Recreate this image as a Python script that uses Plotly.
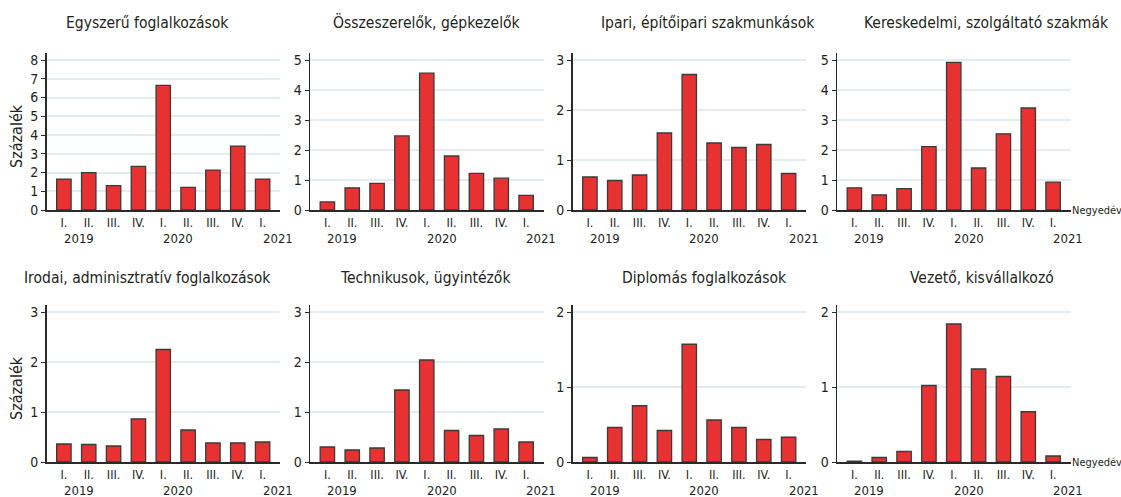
import plotly.graph_objects as go

W, H = 1121, 497
HF = 505  # rendered figure height (compensates the vertical squeeze seen in the page photo)
S = HF / H

quarters = ["I.", "II.", "III.", "IV.", "I.", "II.", "III.", "IV.", "I."]
years = ["2019", "2020", "2021"]
year_pos = [0, 4, 8]

titles = [
    "Egyszerű foglalkozások",
    "Összeszerelők, gépkezelők",
    "Ipari, építőipari szakmunkások",
    "Kereskedelmi, szolgáltató szakmák",
    "Irodai, adminisztratív foglalkozások",
    "Technikusok, ügyintézők",
    "Diplomás foglalkozások",
    "Vezető, kisvállalkozó",
]

egyszeru = [1.65, 1.99, 1.30, 2.33, 6.65, 1.21, 2.13, 3.41, 1.65]
osszeszerelo = [0.27, 0.74, 0.89, 2.47, 4.56, 1.80, 1.22, 1.06, 0.49]
ipari = [0.66, 0.59, 0.70, 1.54, 2.71, 1.34, 1.25, 1.31, 0.73]
kereskedelmi = [0.74, 0.50, 0.71, 2.11, 4.92, 1.40, 2.54, 3.40, 0.93]
irodai = [0.36, 0.35, 0.32, 0.86, 2.25, 0.64, 0.38, 0.38, 0.40]
technikus = [0.30, 0.24, 0.28, 1.44, 2.04, 0.63, 0.53, 0.66, 0.40]
diplomas = [0.06, 0.46, 0.75, 0.42, 1.57, 0.56, 0.46, 0.30, 0.33]
vezeto = [0.01, 0.06, 0.14, 1.02, 1.84, 1.24, 1.14, 0.67, 0.08]

series = [egyszeru, osszeszerelo, ipari, kereskedelmi, irodai, technikus, diplomas, vezeto]
y_max = [8, 5, 3, 5, 3, 3, 2, 2]

y_title = "Százalék"
x_title = "Negyedév"

FONT = "Liberation Sans Narrow, DejaVu Sans Condensed, Roboto, sans-serif"
TXT = "#231f20"
RED = "#e83232"
EDGE = "#3a3a3a"
GRID = "#e3ecf1"

# pixel layout (in 1121x497 picture space)
col_px = [(46.5, 280), (310, 543.5), (572.5, 806), (837, 1070.5)]
row_px = [(52.5, 210), (304.5, 462)]  # top of range, zero line
title_cx = [[147, 427, 708, 987], [147, 425, 704, 982]]
title_cy = [23, 278]

fig = go.Figure()
layout = dict(
    width=W, height=HF, autosize=False,
    margin=dict(l=0, r=0, t=0, b=0),
    paper_bgcolor="white", plot_bgcolor="white",
    showlegend=False,
    font=dict(family=FONT, color=TXT, size=13),
    bargap=0.42,
)
annotations = []

for i, vals in enumerate(series):
    r, c = divmod(i, 4)
    n = i + 1
    xa = "x" if n == 1 else f"x{n}"
    ya = "y" if n == 1 else f"y{n}"
    fig.add_trace(go.Bar(
        x=list(range(len(quarters))), y=vals,
        marker=dict(color=RED, line=dict(color=EDGE, width=1.3)),
        xaxis=xa, yaxis=ya, hoverinfo="y",
    ))
    x0, x1 = col_px[c]
    yt, yz = row_px[r]
    layout["xaxis" + ("" if n == 1 else str(n))] = dict(
        domain=[x0 / W, x1 / W], anchor=ya,
        range=[-0.7, 8.7],
        tickmode="array", tickvals=list(range(len(quarters))), ticktext=quarters,
        ticks="", showgrid=False, zeroline=False,
        showline=True, linecolor="#2a2a2a", linewidth=1.5,
        tickfont=dict(size=12.5, color=TXT), fixedrange=True,
    )
    layout["yaxis" + ("" if n == 1 else str(n))] = dict(
        domain=[1 - yz / H, 1 - yt / H], anchor=xa,
        range=[0, y_max[i] * 1.05],
        dtick=1, tick0=0,
        ticks="outside", ticklen=4, tickwidth=1, tickcolor="#2a2a2a",
        showgrid=True, gridcolor=GRID, gridwidth=2,
        zeroline=False,
        showline=True, linecolor="#2a2a2a", linewidth=1.5,
        tickfont=dict(size=14, color=TXT), fixedrange=True,
    )
    annotations.append(dict(
        text=titles[i], xref="paper", yref="paper",
        x=title_cx[r][c] / W, y=1 - title_cy[r] / H,
        xanchor="center", yanchor="middle", showarrow=False,
        font=dict(size=15.5, color=TXT),
    ))
    for yr, p in zip(years, year_pos):
        annotations.append(dict(
            text=yr, xref=xa, yref=ya + " domain", x=p, y=0,
            xanchor="left", yanchor="middle", xshift=-2, yshift=-28 * S,
            showarrow=False, font=dict(size=13, color=TXT),
        ))
    if c == 3:
        annotations.append(dict(
            text=x_title, xref=xa + " domain", yref=ya + " domain", x=1, y=0,
            xanchor="left", yanchor="middle", xshift=0, borderpad=0,
            showarrow=False, font=dict(size=11, color=TXT),
        ))
    if c == 0:
        annotations.append(dict(
            text=y_title, xref="paper", yref=ya + " domain", x=17 / W, y=0.47,
            xanchor="center", yanchor="middle", textangle=-90, showarrow=False,
            font=dict(size=16, color=TXT),
        ))

layout["annotations"] = annotations
fig.update_layout(**layout)

fig.write_html(
    "out.html",
    config={"responsive": False, "displayModeBar": False, "staticPlot": True},
    post_script="document.body.style.margin='0';document.body.style.overflow='hidden';",
)
